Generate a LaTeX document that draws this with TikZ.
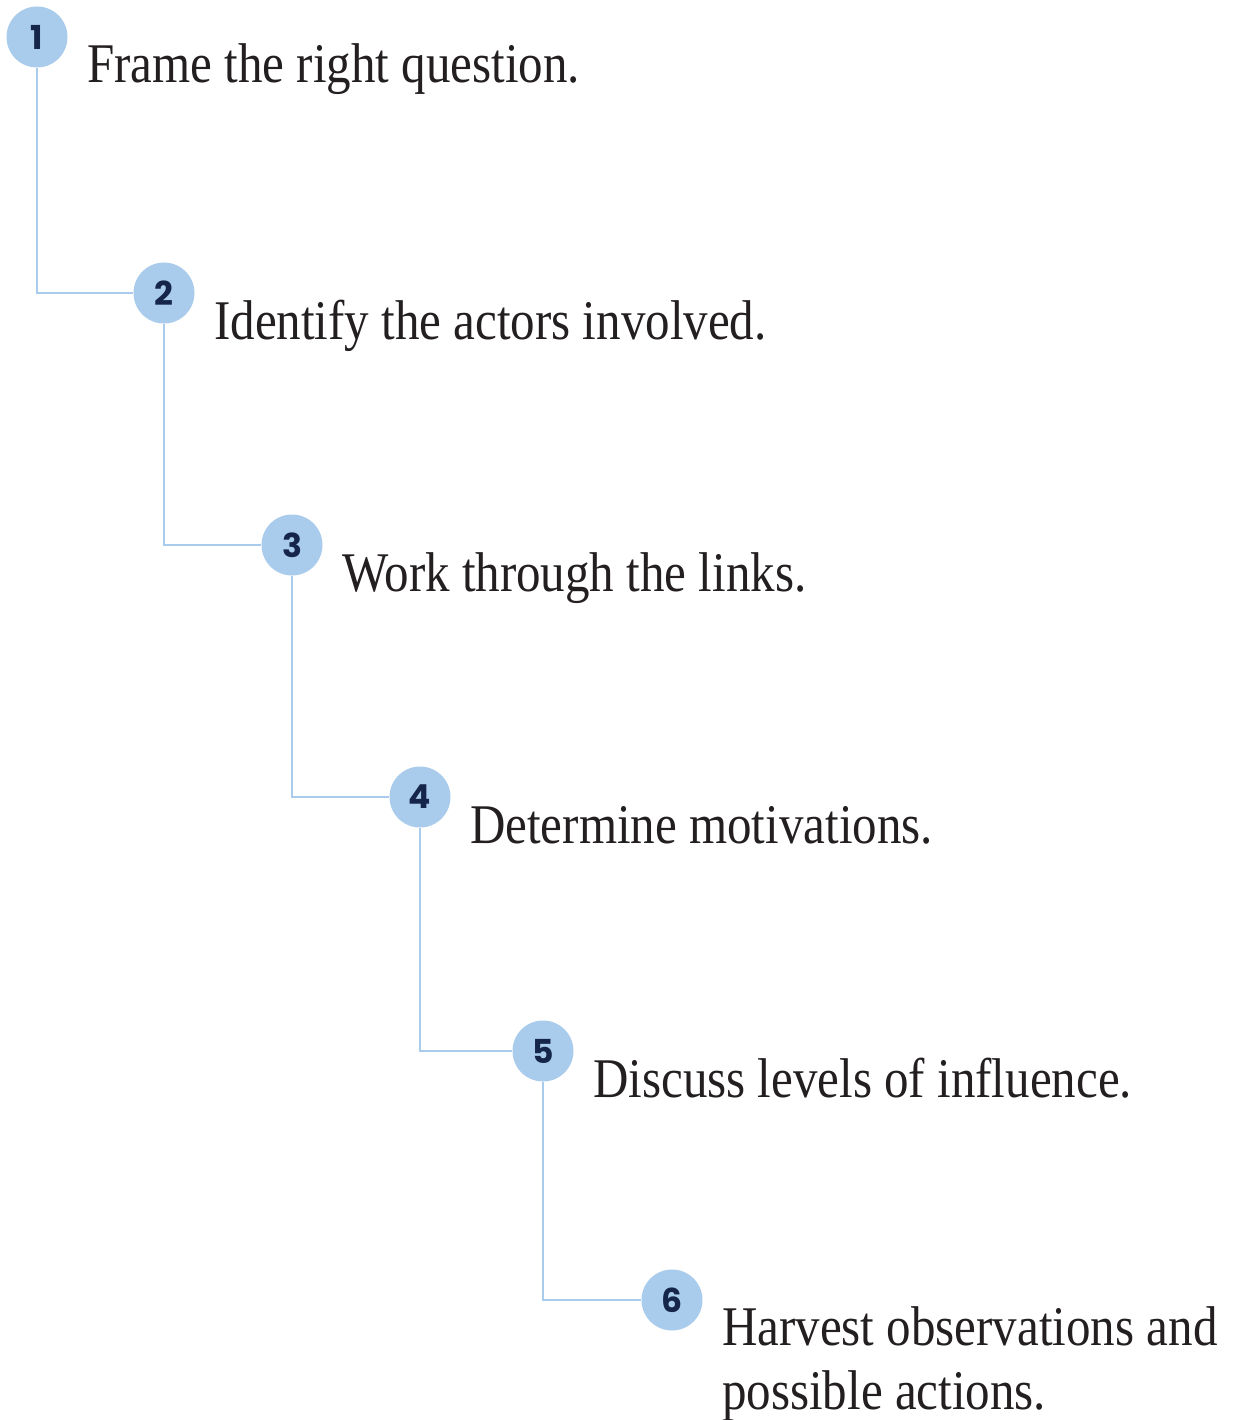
\documentclass[tikz,border=0pt]{standalone}
\usepackage{fontspec}
\setmainfont[FakeStretch=0.875]{Liberation Serif}
\newfontfamily\stepfont{Poppins}
\usepackage{tikz}
\usetikzlibrary{positioning}
\definecolor{stepblue}{HTML}{A9CBEC}
\definecolor{stepnavy}{HTML}{16264A}
\definecolor{inkblack}{HTML}{231F20}
\tikzstyle{stepvertex}=[circle,fill=stepblue,draw=none,minimum size=61pt,inner sep=0pt,text=stepnavy,font=\stepfont\bfseries\fontsize{33}{33}\selectfont]
\tikzstyle{link} = [draw,stepblue,line width=2pt]
\tikzstyle{steptext} = [anchor=base west,inner sep=0pt,text=inkblack,align=left,font=\fontsize{56}{64}\selectfont]

\begin{document}
\begin{tikzpicture}[x=1pt,y=-1pt]
    \useasboundingbox (0,0) rectangle (1233,1420);

    % numbered steps, going down the staircase
    \foreach \pos/\name/\num in {{(37,37)/S1/1}, {(164,293)/S2/2}, {(292,545)/S3/3}, {(420,797)/S4/4}, {(543,1051)/S5/5}, {(672,1300)/S6/6}}
        \node[stepvertex] (\name) at \pos {\num};

    % elbow links between steps
    \foreach \source/\dest in {S1/S2, S2/S3, S3/S4, S4/S5, S5/S6}
        \path[link] (\source) |- (\dest);

    % step labels (base is the last line, so T6 sits one line lower)
    \node[steptext] (T1) at ([shift={(50,46)}]S1.center) {Frame the right question.};
    \node[steptext] (T2) at ([shift={(50,46)}]S2.center) {Identify the actors involved.};
    \node[steptext] (T3) at ([shift={(50,46)}]S3.center) {Work through the links.};
    \node[steptext] (T4) at ([shift={(50,46)}]S4.center) {Determine motivations.};
    \node[steptext] (T5) at ([shift={(50,46)}]S5.center) {Discuss levels of influence.};
    \node[steptext] (T6) at ([shift={(50,109)}]S6.center) {Harvest observations and\\possible actions.};
\end{tikzpicture}
\end{document}
